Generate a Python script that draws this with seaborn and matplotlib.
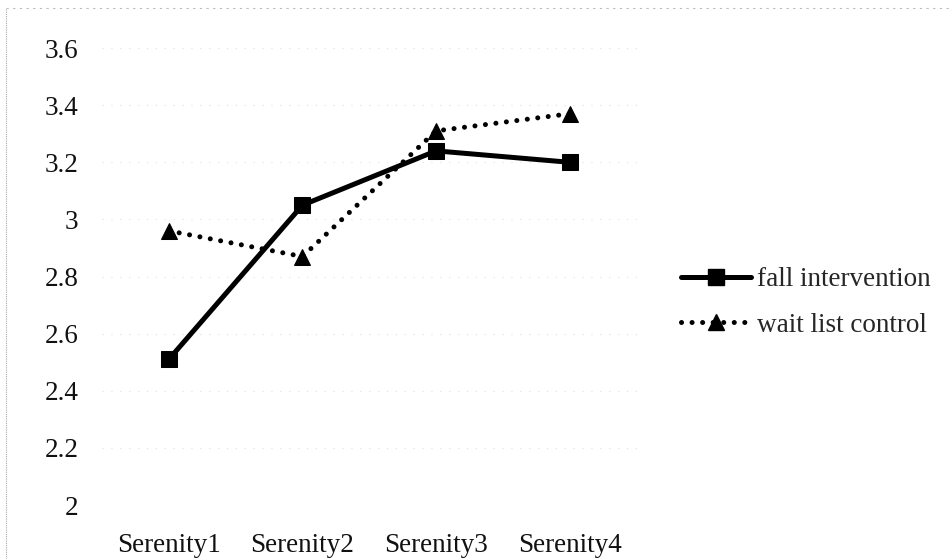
import matplotlib
matplotlib.use("Agg")
import matplotlib.pyplot as plt
import seaborn as sns
import pandas as pd
from matplotlib.lines import Line2D

categories = ["Serenity1", "Serenity2", "Serenity3", "Serenity4"]
fall_intervention = [2.51, 3.05, 3.24, 3.20]
wait_list_control = [2.96, 2.87, 3.31, 3.37]
series_names = ["fall intervention", "wait list control"]
y_ticks = [2.0, 2.2, 2.4, 2.6, 2.8, 3.0, 3.2, 3.4, 3.6]
y_tick_labels = ["2", "2.2", "2.4", "2.6", "2.8", "3", "3.2", "3.4", "3.6"]

df = pd.DataFrame({
    "cat": categories * 2,
    "value": fall_intervention + wait_list_control,
    "series": [series_names[0]] * 4 + [series_names[1]] * 4,
})

sns.set_style("white")
plt.rcParams["font.family"] = ["Liberation Serif", "DejaVu Serif"]

FS = 19.5
DOT = (0, (0.01, 2.1))

fig = plt.figure(figsize=(9.53, 5.59), dpi=100)
ax = fig.add_axes([0.107, 0.0966, 0.561, 0.8174])

sns.lineplot(data=df, x="cat", y="value", hue="series", style="series",
             palette=["black", "black"],
             dashes={series_names[0]: "", series_names[1]: DOT[1]},
             markers={series_names[0]: "s", series_names[1]: "^"},
             markersize=11.5, linewidth=3.6, sort=False, ax=ax, legend=False)
for ln in ax.lines:
    ln.set_dash_capstyle("round")
    ln.set_markeredgecolor("black")

ax.set_xlim(-0.5, 3.5)
ax.set_ylim(2.0, 3.6)
ax.set_yticks(y_ticks)
ax.set_yticklabels(y_tick_labels)
ax.set_xlabel("")
ax.set_ylabel("")
for s in ax.spines.values():
    s.set_visible(False)
ax.tick_params(axis="both", length=0, labelsize=FS, colors="#111111")
ax.tick_params(axis="y", pad=17)
ax.tick_params(axis="x", pad=20)
ax.yaxis.grid(True, color="#e0e0e0", linestyle=(0, (1, 7)), linewidth=0.8)
ax.set_axisbelow(True)

handles = [
    Line2D([0], [0], color="black", lw=3.6, marker="s", markersize=11.5),
    Line2D([0], [0], color="black", lw=3.6, linestyle=DOT,
           dash_capstyle="round", marker="^", markersize=11.5),
]
fig.legend(handles, series_names, loc="center left",
           bbox_to_anchor=(0.689, 0.459), frameon=False, fontsize=FS,
           handlelength=2.6, handletextpad=0.2, labelspacing=0.75)

# faint scan border
fig.add_artist(Line2D([0.006, 0.006], [0.0, 0.985], transform=fig.transFigure,
                      color="#aaaaaa", lw=0.8, linestyle=(0, (1, 1))))
fig.add_artist(Line2D([0.006, 1.0], [0.985, 0.985], transform=fig.transFigure,
                      color="#bbbbbb", lw=0.8, linestyle=(0, (2, 4))))

fig.savefig("out.png", dpi=100)
